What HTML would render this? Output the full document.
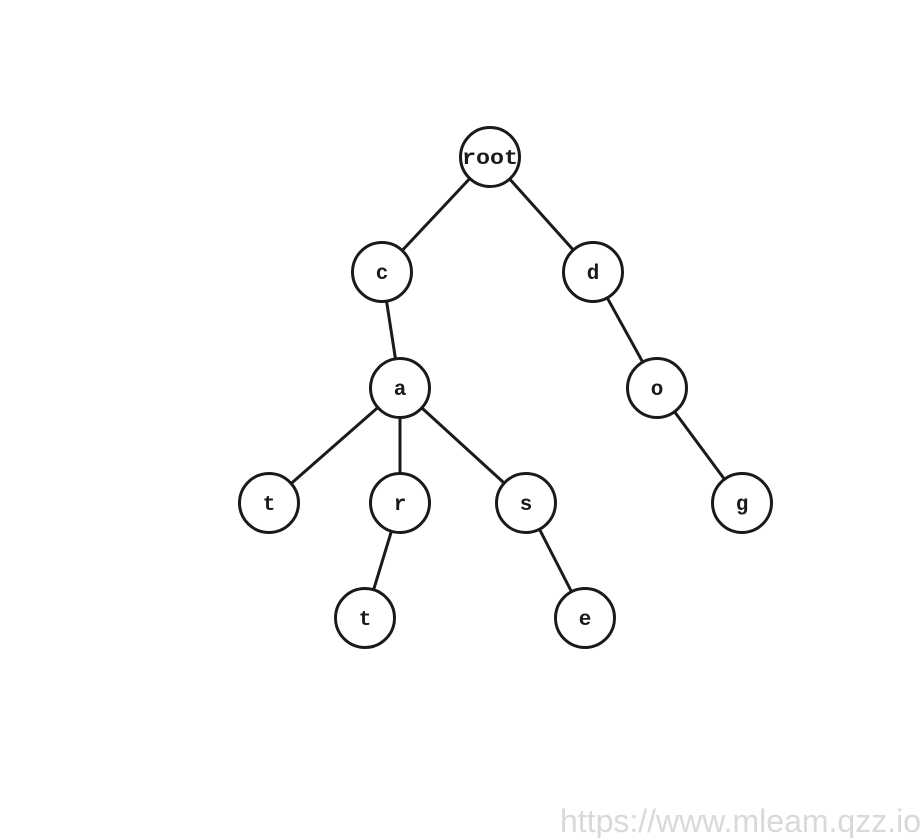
<!DOCTYPE html>
<html><head><meta charset="utf-8"><style>
html,body{margin:0;padding:0;background:#fff;width:923px;height:838px;overflow:hidden}
svg{display:block}
</style></head><body>
<svg id="tree" width="923" height="838" xmlns="http://www.w3.org/2000/svg">
<g id="edges"></g><g id="nodes"></g>
<text x="921" y="832" text-anchor="end" font-family="Liberation Sans, sans-serif" font-size="32" fill="#d9d9d9">https://www.mleam.qzz.io</text>
</svg>
<script>
const labels=["root","c","d","a","o","t","r","s","g","t","e"];
const nodeX=[490,382,593,400,657,269,400,526,742,365,585];
const nodeY=[157,272,272,388,388,503,503,503,503,618,618];
const parents=[-1,0,0,1,2,3,3,3,4,6,7];
const NS="http://www.w3.org/2000/svg",R=29.5;
const eg=document.getElementById('edges'),ng=document.getElementById('nodes');
for(let i=0;i<labels.length;i++){
  const p=parents[i]; if(p<0) continue;
  const dx=nodeX[i]-nodeX[p],dy=nodeY[i]-nodeY[p],d=Math.hypot(dx,dy);
  const l=document.createElementNS(NS,'line');
  
  
  l.setAttribute('x1',nodeX[p]+dx/d*R);l.setAttribute('y1',nodeY[p]+dy/d*R);
  l.setAttribute('x2',nodeX[i]-dx/d*R);l.setAttribute('y2',nodeY[i]-dy/d*R);
  l.setAttribute('stroke','#1a1a1a');l.setAttribute('stroke-width','3');
  eg.appendChild(l);
}
for(let i=0;i<labels.length;i++){
  const g=document.createElementNS(NS,'g');
  
  
  const c=document.createElementNS(NS,'circle');
  c.setAttribute('cx',nodeX[i]);c.setAttribute('cy',nodeY[i]);c.setAttribute('r',R);
  c.setAttribute('fill','#fff');c.setAttribute('stroke','#1a1a1a');c.setAttribute('stroke-width','3');
  const t=document.createElementNS(NS,'text');
  t.setAttribute('x',nodeX[i]);t.setAttribute('y',nodeY[i]+7);
  t.setAttribute('text-anchor','middle');t.setAttribute('font-family','Liberation Mono, DejaVu Sans Mono, monospace');
  t.setAttribute('font-weight','bold');t.setAttribute('font-size','21');t.setAttribute('fill','#1a1a1a');
  if(labels[i]==="root"){t.setAttribute('textLength','56');t.setAttribute('lengthAdjust','spacingAndGlyphs');}
  t.textContent=labels[i];
  g.appendChild(c);g.appendChild(t);ng.appendChild(g);
}
</script>
</body></html>
